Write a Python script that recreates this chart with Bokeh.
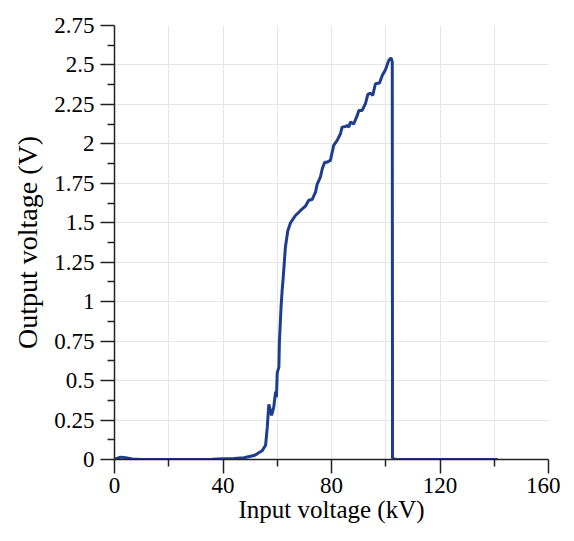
from bokeh.plotting import figure
from bokeh.models import FixedTicker, Range1d
from bokeh.embed import file_html
from bokeh.resources import INLINE

# Data
input_kv = [0, 2.2, 4.1, 6.5, 10, 20, 30, 36, 40, 44, 47.7, 51.4, 52.6, 54.4, 55.7,
            56.3, 56.9, 57.9, 58.7, 59.4, 59.7, 60.0, 60.6, 60.8, 61.0, 61.4, 61.8,
            62.2, 62.4, 63.0, 63.3, 63.9, 64.9, 65.5, 66.7, 68.6, 70.4, 71.6, 72.9,
            74.1, 74.7, 75.9, 76.6, 77.5, 78.4, 79.6, 80.8, 82.1, 83.3, 83.9, 85.2,
            85.8, 86.4, 87.0, 88.2, 89.5, 90.1, 91.3, 92.5, 93.4, 94.4, 95.2, 96.2,
            97.7, 98.7, 99.9, 101.1, 101.9, 102.4, 102.5, 103.0, 104.2, 120, 141.3]
output_v = [0, 0.015, 0.011, 0.003, 0, 0, 0, 0.002, 0.004, 0.006, 0.011, 0.025, 0.036,
            0.055, 0.09, 0.2, 0.35, 0.28, 0.33, 0.43, 0.395, 0.55, 0.585, 0.75, 0.82,
            0.965, 1.07, 1.155, 1.2, 1.345, 1.38, 1.45, 1.5, 1.515, 1.546, 1.578, 1.605,
            1.643, 1.648, 1.694, 1.743, 1.789, 1.842, 1.884, 1.884, 1.895, 1.99, 2.022,
            2.064, 2.106, 2.11, 2.117, 2.106, 2.138, 2.127, 2.18, 2.212, 2.212, 2.254,
            2.313, 2.321, 2.307, 2.381, 2.385, 2.433, 2.47, 2.529, 2.545, 2.52, 0.01,
            0.003, 0, 0, 0]

x_ticks = [0, 40, 80, 120, 160]
x_tick_labels = ["0", "40", "80", "120", "160"]
x_minor = [20, 60, 100, 140]
x_grid = [0, 20, 40, 60, 80, 100, 120, 140, 160]
y_ticks = [0, 0.25, 0.5, 0.75, 1, 1.25, 1.5, 1.75, 2, 2.25, 2.5, 2.75]
y_tick_labels = ["0", "0.25", "0.5", "0.75", "1", "1.25", "1.5", "1.75", "2", "2.25", "2.5", "2.75"]
y_minor = [0.125, 0.375, 0.625, 0.875, 1.125, 1.375, 1.625, 1.875, 2.125, 2.375, 2.625]
x_title = "Input voltage (kV)"
y_title = "Output voltage (V)"

FONT = "Liberation Serif"

p = figure(width=560, height=525, output_backend="svg", toolbar_location=None,
           x_range=Range1d(0, 160), y_range=Range1d(0, 2.75),
           min_border_left=114, min_border_right=12, min_border_top=25, min_border_bottom=66)
p.outline_line_color = None

p.line(input_kv, output_v, line_color="#1f3d8f", line_width=3)

for ax, ticks, minor, labels in ((p.xaxis[0], x_ticks, x_minor, x_tick_labels),
                                 (p.yaxis[0], y_ticks, y_minor, y_tick_labels)):
    ax.ticker = FixedTicker(ticks=ticks, minor_ticks=minor)
    ax.major_label_overrides = {t: l for t, l in zip(ticks, labels)}
    ax.major_tick_out = 14
    ax.major_tick_in = 0
    ax.minor_tick_out = 7
    ax.minor_tick_in = 0
    ax.axis_line_color = "#222222"
    ax.major_tick_line_color = "#222222"
    ax.minor_tick_line_color = "#222222"
    ax.axis_line_width = 1.5
    ax.major_tick_line_width = 1.5
    ax.minor_tick_line_width = 1.5
    ax.major_label_text_font = FONT
    ax.major_label_text_font_size = "23px"
    ax.major_label_text_color = "black"
    ax.axis_label_text_font = FONT
    ax.axis_label_text_font_style = "normal"
    ax.axis_label_text_color = "black"

p.xaxis.axis_label = x_title
p.yaxis.axis_label = y_title
p.xaxis.axis_label_text_font_size = "25px"
p.yaxis.axis_label_text_font_size = "28px"
p.xaxis.major_label_standoff = 4
p.yaxis.major_label_standoff = 6
p.xaxis.axis_label_standoff = 0
p.yaxis.axis_label_standoff = 8

p.xgrid.ticker = FixedTicker(ticks=x_grid)
p.ygrid.ticker = FixedTicker(ticks=y_ticks)
p.grid.grid_line_color = "#e6e6e6"
p.grid.grid_line_width = 1

open("out.html", "w").write(file_html(p, INLINE))
